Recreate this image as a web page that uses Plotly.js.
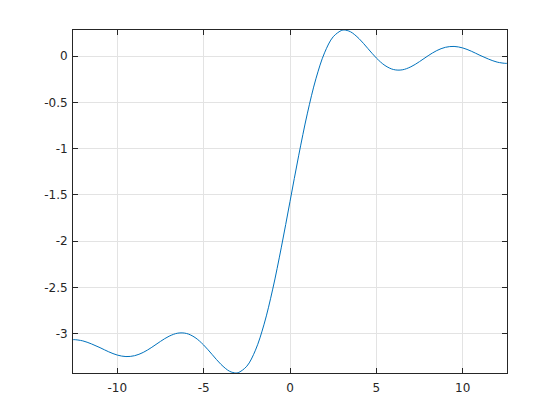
<!DOCTYPE html>
<html>
<head>
<meta charset="utf-8">
<script src="https://cdn.plot.ly/plotly-3.0.1.min.js"></script>
<style>html,body{margin:0;padding:0;background:#fff;}#plot{width:560px;height:420px;}</style>
</head>
<body>
<div id="plot"></div>
<script>
const xValues = [-12.566, -12.5, -12, -11.5, -11, -10.5, -10, -9.5, -9, -8.5, -8, -7.5, -7, -6.5, -6, -5.5, -5, -4.5, -4, -3.5, -3.1416, -3, -2.5, -2, -1.5, -1, -0.5,
  0, 0.5, 1, 1.5, 2, 2.5, 3, 3.1416, 3.5, 4, 4.5, 5, 5.5, 6, 6.5, 7, 7.5, 8, 8.5, 9, 9.5, 10, 10.5, 11, 11.5, 12, 12.5, 12.566];
const yValues = [-3.0630, -3.0623, -3.0758, -3.1083, -3.1491, -3.1937, -3.2291, -3.2453, -3.2358, -3.2004, -3.1450, -3.0815, -3.0254, -2.9926, -2.9955, -3.0395, -3.1207, -3.2249, -3.3290, -3.4039, -3.4227, -3.4195, -3.3493, -3.1762, -2.8955, -2.5169, -2.0639,
  -1.5708, -1.0777, -0.6247, -0.2461, 0.0346, 0.2077, 0.2779, 0.2811, 0.2623, 0.1874, 0.0833, -0.0209, -0.1021, -0.1461, -0.1490, -0.1162, -0.0601, 0.0034, 0.0588, 0.0942, 0.1037, 0.0875, 0.0521, 0.0075, -0.0333, -0.0658, -0.0793, -0.0786];
const xTicks = [-10, -5, 0, 5, 10];
const yTicks = [-3, -2.5, -2, -1.5, -1, -0.5, 0];

const axisCommon = {
  showgrid: true, gridcolor: '#e3e3e3', gridwidth: 1,
  zeroline: false, showline: true, linecolor: '#262626', linewidth: 1, mirror: 'ticks',
  ticks: 'inside', ticklen: 5, tickcolor: '#262626',
  tickfont: {family: 'DejaVu Sans, sans-serif', size: 12, color: '#262626'}
};

Plotly.newPlot('plot', [{
  x: xValues, y: yValues, type: 'scatter', mode: 'lines',
  line: {color: '#0072BD', width: 1, shape: 'spline', smoothing: 1}
}], {
  width: 560, height: 420,
  margin: {l: 73, r: 53, t: 30, b: 47},
  paper_bgcolor: '#fff', plot_bgcolor: '#fff',
  showlegend: false,
  xaxis: Object.assign({}, axisCommon, {range: [-12.566, 12.566], tickvals: xTicks, ticktext: xTicks.map(String), ticklabelstandoff: 4}),
  yaxis: Object.assign({}, axisCommon, {range: [-3.4227, 0.2811], tickvals: yTicks, ticktext: yTicks.map(String), ticklabelstandoff: 2})
}, {displayModeBar: false, staticPlot: true});
</script>
</body>
</html>
